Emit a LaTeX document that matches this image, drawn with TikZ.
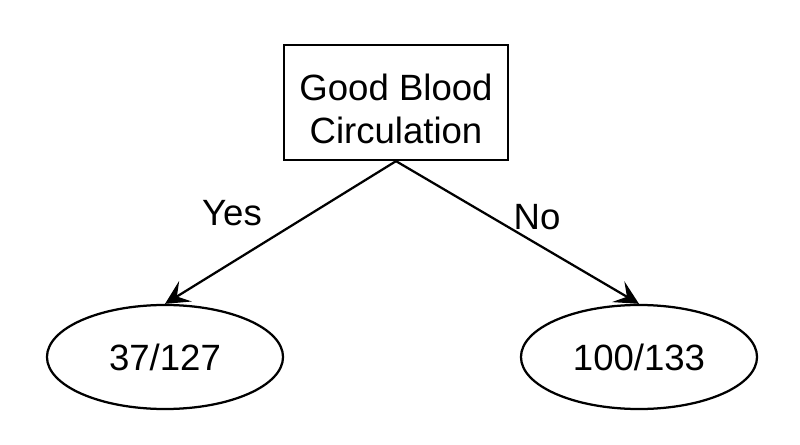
\documentclass[tikz,border=0pt]{standalone}
\usepackage{fontspec}
\setmainfont{Liberation Sans}
\usetikzlibrary{arrows.meta,shapes.geometric}

\begin{document}
\begin{tikzpicture}[x=0.025cm,y=-0.025cm,
  every node/.style={font=\fontsize{26}{30}\selectfont},
  question/.style={draw,line width=1.6pt,minimum width=5.6cm,minimum height=2.875cm,inner sep=0pt},
  leaf/.style={draw,ellipse,line width=1.6pt,minimum width=5.9cm,minimum height=2.6cm,inner sep=0pt},
  branch/.style={-{Stealth[length=0.6cm,width=0.6cm,inset=0.25cm]},line width=1.6pt}]
\useasboundingbox (0,0) rectangle (800,445);

\node[question] (circ) at (396,102.5) {};
\node[align=center] (circtext) at (396,109) {Good Blood\\Circulation};
\node[leaf] (yes) at (165,357) {37/127};
\node[leaf] (no) at (639,357) {100/133};

\draw[branch] (circ.south) -- (yes.north);
\draw[branch] (circ.south) -- (no.north);

\node (lyes) at (232,213) {Yes};
\node (lno) at (537,217) {No};

\end{tikzpicture}
\end{document}
